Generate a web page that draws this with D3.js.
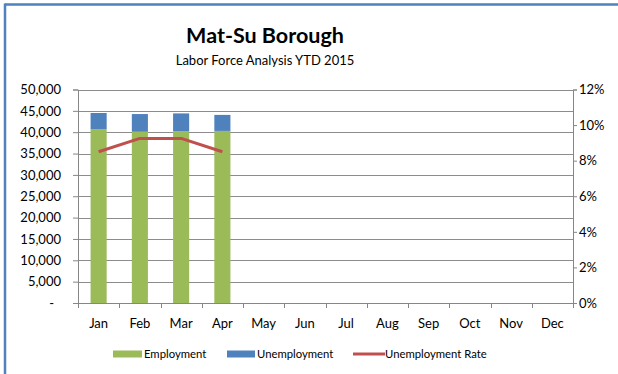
<!DOCTYPE html>
<html>
<head>
<meta charset="utf-8">
<script src="https://cdn.jsdelivr.net/npm/d3@7"></script>
<style>
  html, body { margin: 0; padding: 0; background: #fff; }
  svg { display: block; font-family: Lato, "Open Sans", sans-serif; }
</style>
</head>
<body>
<svg id="chart" width="618" height="374"></svg>
<script>
// Mat-Su Borough labor force, year to date 2015
const months = ["Jan", "Feb", "Mar", "Apr", "May", "Jun", "Jul", "Aug", "Sep", "Oct", "Nov", "Dec"];
const employment = [40700, 40100, 40250, 40300];
const unemployment = [3800, 4150, 4150, 3750];
const unemploymentRate = [0.085, 0.0925, 0.0925, 0.085];
const leftTicks = [0, 5000, 10000, 15000, 20000, 25000, 30000, 35000, 40000, 45000, 50000];
const rightTicks = [0, 0.02, 0.04, 0.06, 0.08, 0.10, 0.12];

const colors = { emp: "#9bbb59", unemp: "#4f81bd", rate: "#c0504d", grid: "#8c8c8c", axis: "#868686", text: "#000" };

const svg = d3.select("#chart");
const plot = { left: 78, right: 573, top: 89.5, bottom: 303 };

// Frame edges
svg.append("line").attr("x1", 5).attr("x2", 618).attr("y1", 4.5).attr("y2", 4.5)
  .attr("stroke", "#4f81bd").attr("stroke-width", 2.5);
svg.append("line").attr("x1", 5).attr("x2", 5).attr("y1", 3.5).attr("y2", 374)
  .attr("stroke", "#4f81bd").attr("stroke-width", 2.5);

// Titles
svg.append("text").attr("x", 265).attr("y", 42.5).attr("text-anchor", "middle")
  .attr("font-size", 21.5).attr("font-weight", "bold").attr("fill", colors.text).text("Mat-Su Borough");
svg.append("text").attr("x", 265).attr("y", 64.5).attr("text-anchor", "middle")
  .attr("font-size", 13).attr("fill", colors.text).text("Labor Force Analysis YTD 2015");

// Scales
const x = d3.scaleBand().domain(months).range([plot.left, plot.right]).paddingInner(0.61).paddingOuter(0.305);
const xCat = d3.scaleBand().domain(months).range([plot.left, plot.right]);
const yL = d3.scaleLinear().domain([0, 50000]).range([plot.bottom, plot.top]);
const yR = d3.scaleLinear().domain([0, 0.12]).range([plot.bottom, plot.top]);

// Horizontal gridlines
svg.append("g").selectAll("line").data(leftTicks.slice(1)).join("line")
  .attr("x1", plot.left).attr("x2", plot.right)
  .attr("y1", d => Math.round(yL(d)) + 0.5).attr("y2", d => Math.round(yL(d)) + 0.5)
  .attr("stroke", colors.grid).attr("stroke-width", 1);

// Stacked bars
const idx = d3.range(employment.length);
svg.append("g").selectAll("rect.emp").data(idx).join("rect")
  .attr("x", i => x(months[i])).attr("width", x.bandwidth())
  .attr("y", i => yL(employment[i])).attr("height", i => yL(0) - yL(employment[i]))
  .attr("fill", colors.emp);
svg.append("g").selectAll("rect.unemp").data(idx).join("rect")
  .attr("x", i => x(months[i])).attr("width", x.bandwidth())
  .attr("y", i => yL(employment[i] + unemployment[i]))
  .attr("height", i => yL(employment[i]) - yL(employment[i] + unemployment[i]))
  .attr("fill", colors.unemp);

// Unemployment rate line
const line = d3.line().x((d, i) => xCat(months[i]) + xCat.bandwidth() / 2).y(d => yR(d));
svg.append("path").datum(unemploymentRate).attr("d", line)
  .attr("fill", "none").attr("stroke", colors.rate).attr("stroke-width", 3).attr("stroke-linejoin", "round");

// Left axis
const axL = svg.append("g").attr("transform", `translate(${plot.left},0)`)
  .call(d3.axisLeft(yL).tickValues(leftTicks).tickSize(5).tickPadding(12)
    .tickFormat(d => d === 0 ? "-" : d3.format(",")(d)));
axL.select(".domain").attr("stroke", colors.axis);
axL.selectAll(".tick line").attr("stroke", colors.axis);
axL.selectAll(".tick text").attr("font-size", 13).attr("font-family", "Lato, sans-serif").attr("fill", colors.text);
axL.selectAll(".tick text").filter(d => d === 0).attr("dx", -7);

// Right axis
const axR = svg.append("g").attr("transform", `translate(${plot.right},0)`)
  .call(d3.axisRight(yR).tickValues(rightTicks).tickSize(4).tickPadding(2).tickFormat(d3.format(".0%")));
axR.select(".domain").attr("stroke", colors.axis);
axR.selectAll(".tick line").attr("stroke", colors.axis);
axR.selectAll(".tick text").attr("font-size", 13).attr("font-family", "Lato, sans-serif").attr("fill", colors.text);

// Bottom axis: ticks at category boundaries
const axB = svg.append("g").attr("transform", `translate(0,${plot.bottom})`);
axB.append("line").attr("x1", plot.left - 5).attr("x2", plot.right).attr("y1", 0.5).attr("y2", 0.5)
  .attr("stroke", colors.axis);
axB.selectAll("line.tk").data(months.concat(["end"])).join("line")
  .attr("x1", (d, i) => Math.round(plot.left + i * xCat.step()) + 0.5)
  .attr("x2", (d, i) => Math.round(plot.left + i * xCat.step()) + 0.5)
  .attr("y1", 0).attr("y2", 5).attr("stroke", colors.axis);
axB.selectAll("text").data(months).join("text")
  .attr("x", d => xCat(d) + xCat.bandwidth() / 2).attr("y", 25)
  .attr("text-anchor", "middle").attr("font-size", 13).attr("fill", colors.text).text(d => d);

// Legend
const legend = svg.append("g").attr("font-size", 11.3).attr("fill", colors.text);
legend.append("rect").attr("x", 113).attr("y", 350.5).attr("width", 29).attr("height", 7).attr("fill", colors.emp);
legend.append("text").attr("x", 144).attr("y", 358).text("Employment");
legend.append("rect").attr("x", 227).attr("y", 350.5).attr("width", 28).attr("height", 7).attr("fill", colors.unemp);
legend.append("text").attr("x", 257).attr("y", 358).text("Unemployment");
legend.append("line").attr("x1", 353).attr("x2", 385).attr("y1", 354).attr("y2", 354)
  .attr("stroke", colors.rate).attr("stroke-width", 3);
legend.append("text").attr("x", 385).attr("y", 358).text("Unemployment Rate");
</script>
</body>
</html>
